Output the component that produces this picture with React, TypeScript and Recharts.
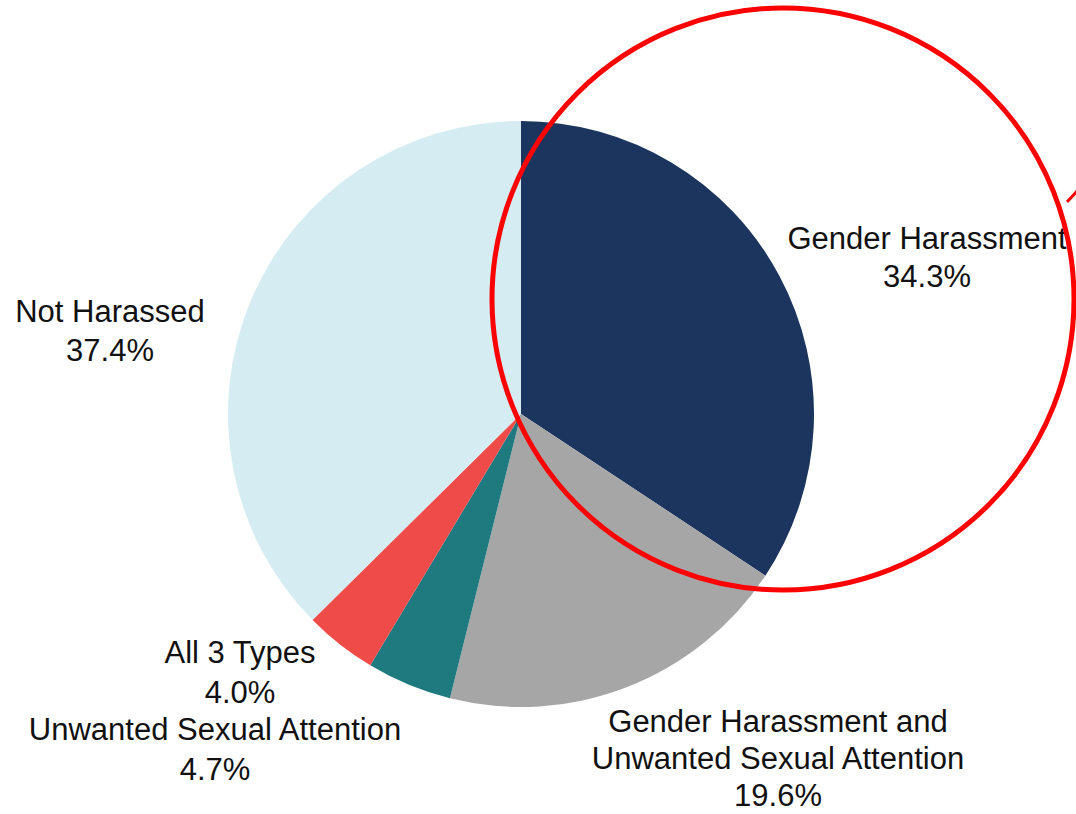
import React from "react";
import { PieChart, Pie, Cell } from "recharts";

const categories = [
  "Gender Harassment",
  "Gender Harassment and Unwanted Sexual Attention",
  "Unwanted Sexual Attention",
  "All 3 Types",
  "Not Harassed",
];
const values = [34.3, 19.6, 4.7, 4.0, 37.4];
const labelLines = [
  ["Gender Harassment"],
  ["Gender Harassment and", "Unwanted Sexual Attention"],
  ["Unwanted Sexual Attention"],
  ["All 3 Types"],
  ["Not Harassed"],
];
const colors = ["#1C355E", "#A6A6A6", "#1F7A80", "#EF4B48", "#D4ECF2"];

const data = categories.map((name, i) => ({ name, value: values[i] }));

// label anchor offsets relative to pie centre (style/layout only)
const labelLayout = [
  { dx: 406, dy: -165 },
  { dx: 257, dy: 318 },
  { dx: -306, dy: 326 },
  { dx: -281, dy: 249 },
  { dx: -411, dy: -92 },
];
const lineGap = [38, 37, 40, 40, 39];

const CX = 521;
const CY = 414;

const renderLabel = (props: any) => {
  const i = props.index;
  const cx = typeof props.cx === "number" ? props.cx : CX;
  const cy = typeof props.cy === "number" ? props.cy : CY;
  const lay = labelLayout[i];
  const lines = [...labelLines[i], `${values[i].toFixed(1)}%`];
  return (
    <g key={`lbl-${i}`}>
      {lines.map((t, j) => (
        <text
          key={j}
          x={cx + lay.dx}
          y={cy + lay.dy + j * lineGap[i]}
          textAnchor="middle"
          fontFamily="'Liberation Sans', Arial, sans-serif"
          fontSize={31}
          fill="#111"
        >
          {t}
        </text>
      ))}
    </g>
  );
};

export default function App() {
  return (
    <div
      style={{
        position: "absolute",
        left: 0,
        top: 0,
        width: 1076,
        height: 814,
        background: "#fff",
      }}
    >
      <PieChart width={1076} height={814} margin={{ top: 0, right: 0, bottom: 0, left: 0 }}>
        <Pie
          data={data}
          dataKey="value"
          nameKey="name"
          cx={CX}
          cy={CY}
          outerRadius={293}
          startAngle={90}
          endAngle={-270}
          stroke="none"
          label={renderLabel}
          labelLine={false}
          isAnimationActive={false}
        >
          {data.map((d, i) => (
            <Cell key={d.name} fill={colors[i]} />
          ))}
        </Pie>
      </PieChart>
      <svg
        width={1076}
        height={814}
        style={{ position: "absolute", left: 0, top: 0, pointerEvents: "none" }}
      >
        <circle cx={783} cy={299} r={291} fill="none" stroke="#FF0000" strokeWidth={5} />
        <line x1={1067} y1={202} x2={1080} y2={188} stroke="#FF0000" strokeWidth={3} />
      </svg>
    </div>
  );
}
